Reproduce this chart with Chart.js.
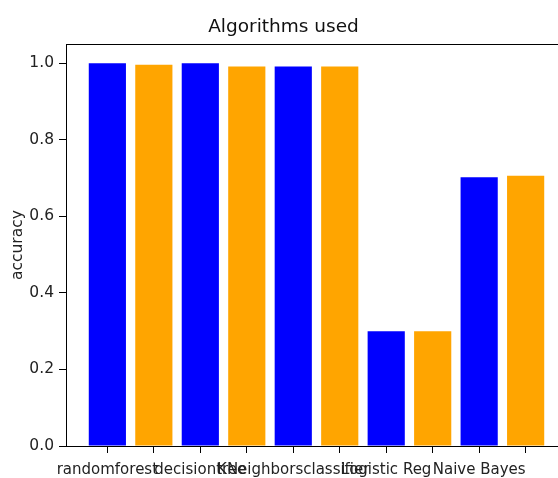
<!DOCTYPE html>
<html><head><meta charset="utf-8">
<script src="https://cdn.jsdelivr.net/npm/chart.js@4.4.1/dist/chart.umd.min.js"></script>
<style>
html,body{margin:0;padding:0;overflow:hidden;background:#fff;width:558px;height:478px}
#wrap{position:absolute;left:0;top:0;width:600px;height:478px}
</style></head>
<body><div id="wrap"><canvas id="c"></canvas></div>
<script>
const chartTitle = 'Algorithms used';
const yAxisLabel = 'accuracy';
const algorithms = ['randomforest', 'decisiontree', 'KNeighborsclassifier', 'Logistic Reg', 'Naive Bayes'];
const blueAccuracy = [1.0, 1.0, 0.992, 0.300, 0.702];
const orangeAccuracy = [0.996, 0.992, 0.992, 0.300, 0.706];
const yTicks = [0.0, 0.2, 0.4, 0.6, 0.8, 1.0];

const nPos = algorithms.length * 2;
const xLabels = [];
algorithms.forEach(a => { xLabels.push(a); xLabels.push(''); });
const blueData = blueAccuracy.map((v, i) => ({x: 2 * i, y: v}));
const orangeData = orangeAccuracy.map((v, i) => ({x: 2 * i + 1, y: v}));

const FONT = 'DejaVu Sans';
const topSpine = {
  id: 'topSpine',
  afterDraw(chart) {
    const {ctx, chartArea} = chart;
    ctx.save();
    ctx.strokeStyle = '#000';
    ctx.lineWidth = 1;
    ctx.beginPath();
    ctx.moveTo(chartArea.left, Math.round(chartArea.top) + 0.5);
    ctx.lineTo(chartArea.right, Math.round(chartArea.top) + 0.5);
    ctx.stroke();
    ctx.restore();
  }
};

new Chart(document.getElementById('c'), {
  type: 'bar',
  data: {
    datasets: [
      {data: blueData, backgroundColor: '#0000ff', borderWidth: 0},
      {data: orangeData, backgroundColor: '#ffa500', borderWidth: 0}
    ]
  },
  options: {
    responsive: true,
    maintainAspectRatio: false,
    animation: false,
    devicePixelRatio: 1,
    layout: {padding: {left: 0, top: 0, bottom: 0, right: 33}},
    grouped: false,
    barPercentage: 0.8,
    categoryPercentage: 1,
    plugins: {
      legend: {display: false},
      tooltip: {enabled: false},
      title: {
        display: true, text: chartTitle, color: '#111',
        font: {family: FONT, size: 18.5, weight: 'normal'},
        padding: {top: 16, bottom: 6}
      }
    },
    scales: {
      x: {
        type: 'linear',
        offset: false,
        min: -0.89, max: nPos - 1 + 0.89,
        afterBuildTicks: s => { s.ticks = xLabels.map((_, i) => ({value: i})); },
        afterFit: s => { s.height = 32; },
        ticks: {
          autoSkip: false, maxRotation: 0, minRotation: 0,
          color: '#222', padding: 8,
          font: {family: FONT, size: 15},
          callback: (v, i) => xLabels[i]
        },
        grid: {display: true, offset: false, drawOnChartArea: false, drawTicks: true, tickLength: 7, color: '#000'},
        border: {display: true, color: '#000', width: 1}
      },
      y: {
        min: 0, max: 1.05,
        afterBuildTicks: s => { s.ticks = yTicks.map(v => ({value: v})); },
        afterFit: s => { s.width = 66; },
        ticks: {
          color: '#222', padding: 5,
          font: {family: FONT, size: 15.5},
          callback: v => Number(v).toFixed(1)
        },
        grid: {display: true, drawOnChartArea: false, drawTicks: true, tickLength: 7, color: '#000'},
        border: {display: true, color: '#000', width: 1},
        title: {
          display: true, text: yAxisLabel, color: '#222',
          font: {family: FONT, size: 15.5},
          padding: {top: 9, bottom: 0}
        }
      }
    }
  },
  plugins: [topSpine]
});
</script>
</body></html>
